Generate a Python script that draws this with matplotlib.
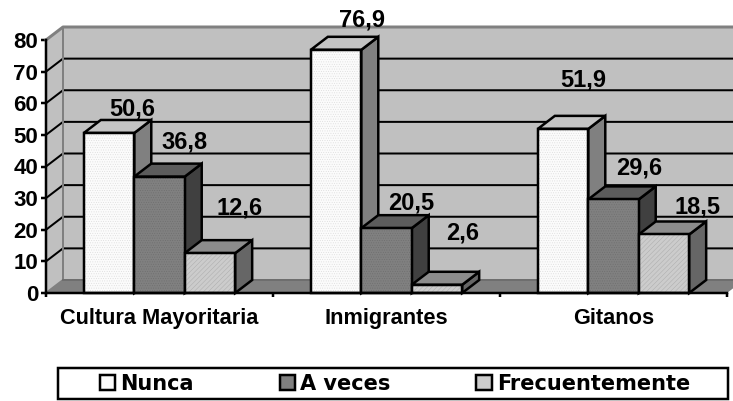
import numpy as np
import matplotlib
matplotlib.use('Agg')
import matplotlib.pyplot as plt
from matplotlib.patches import Polygon, Rectangle

categories = ['Cultura Mayoritaria', 'Inmigrantes', 'Gitanos']
series_names = ['Nunca', 'A veces', 'Frecuentemente']
nunca = [50.6, 76.9, 51.9]
a_veces = [36.8, 20.5, 29.6]
frecuentemente = [12.6, 2.6, 18.5]
y_ticks = [0, 10, 20, 30, 40, 50, 60, 70, 80]

# label offsets from the front top centre of each bar, in pixels
label_dx = [[23, 26, 20], [25, 25, 26], [30, 26, 34]]
label_dy = [[24, 30, 49], [35, 25, 31], [45, 52, 27]]

front = ['#fbfbfb', '#808080', '#cccccc']
grain = ['#d8d8d8', '#6c6c6c', '#a8a8a8']
hatches = ['.......', '.......', '///////']
top = ['#c4c4c4', '#5c5c5c', '#8c8c8c']
side = ['#808080', '#404040', '#666666']
font = 'Liberation Sans'
W, H = 733, 401
PX = 0.72  # points per pixel at dpi 100
EDGE = 2.5 * PX

plt.rcParams['hatch.linewidth'] = 0.3

fig = plt.figure(figsize=(W / 100, H / 100), dpi=100)
ax = fig.add_axes([46 / W, (H - 293) / H, 681 / W, 253 / H])
ax.set_xlim(-0.5, 2.5)
ax.set_ylim(0, 80)
ax.patch.set_visible(False)
for spine in ax.spines.values():
	spine.set_visible(False)

# depth of the box in data units
dx = 17 / (681 / 3)
dy = 13 / (253 / 80)
x0, x1 = -0.5, 2.5


def poly(points, color, edge='none', lw=0, z=1):
	ax.add_patch(Polygon(points, closed=True, facecolor=color, edgecolor=edge, linewidth=lw, zorder=z, clip_on=False, joinstyle='miter'))


# walls and floor
poly([(x0 + dx, dy), (x1 + dx, dy), (x1 + dx, 80 + dy), (x0 + dx, 80 + dy)], '#c0c0c0')
poly([(x0, 0), (x0 + dx, dy), (x0 + dx, 80 + dy), (x0, 80)], '#c0c0c0')
poly([(x0, 0), (x1, 0), (x1 + dx, dy), (x0 + dx, dy)], '#808080')
for v in y_ticks[1:-1]:
	ax.plot([x0, x0 + dx, x1 + dx], [v, v + dy, v + dy], color='black', lw=2 * PX, zorder=2, clip_on=False)
ax.plot([x0, x0 + dx, x1 + dx], [80, 80 + dy, 80 + dy], color='#808080', lw=3 * PX, zorder=2, clip_on=False)
ax.plot([x0, x0 + dx, x0 + dx], [0, dy, 80 + dy], color='#808080', lw=2 * PX, zorder=2, clip_on=False)
ax.plot([x0 + dx, x1 + dx], [dy, dy], color='#6e6e6e', lw=2 * PX, zorder=2, clip_on=False)

# bars, left to right so each one overlaps the side of the previous
width = 1 / 4.5
z = 3
for c in range(len(categories)):
	for s, values in enumerate([nunca, a_veces, frecuentemente]):
		v = values[c]
		left = c - 1.5 * width + s * width
		right = left + width
		poly([(right, 0), (right + dx, dy), (right + dx, v + dy), (right, v)], side[s], 'black', EDGE, z)
		poly([(left, v), (right, v), (right + dx, v + dy), (left + dx, v + dy)], top[s], 'black', EDGE, z)
		ax.bar(left + width / 2, v, width, facecolor=front[s], edgecolor=grain[s], hatch=hatches[s], linewidth=0, zorder=z, clip_on=False)
		ax.bar(left + width / 2, v, width, fill=False, edgecolor='black', linewidth=EDGE, zorder=z, clip_on=False)
		ax.annotate(f'{v}'.replace('.', ','), (left + width / 2, v),
			xytext=(label_dx[s][c] * PX, label_dy[s][c] * PX), textcoords='offset points',
			ha='center', va='center', family=font, fontweight='bold', fontsize=17, zorder=20, annotation_clip=False)
		z += 1

# axes lines and ticks
ax.plot([x0, x0], [0, 80], color='black', lw=EDGE, zorder=30, clip_on=False)
ax.plot([x0, x1], [0, 0], color='black', lw=EDGE, zorder=30, clip_on=False)
ax.set_yticks(y_ticks)
ax.set_xticks([-0.5, 0.5, 1.5, 2.5])
ax.set_xticklabels([])
ax.set_xticks([0, 1, 2], minor=True)
ax.set_xticklabels(categories, minor=True, family=font, fontweight='bold', fontsize=15.7)
ax.tick_params(axis='x', which='major', length=4 * PX, width=EDGE)
ax.tick_params(axis='x', which='minor', length=0, pad=15 * PX)
ax.tick_params(axis='y', length=5 * PX, width=EDGE, pad=3 * PX)
for label in ax.get_yticklabels():
	label.set_family(font)
	label.set_fontweight('bold')
	label.set_fontsize(16)

# legend box
fig.add_artist(Rectangle((58 / W, (H - 399) / H), 670 / W, 31 / H, transform=fig.transFigure, facecolor='white', edgecolor='black', linewidth=EDGE))
handles = [Rectangle((0, 0), 1, 1, facecolor=front[i], edgecolor='black', linewidth=EDGE) for i in range(3)]
legend = fig.legend(handles, series_names, ncols=3, loc='center', bbox_to_anchor=(395 / W, (H - 384) / H), frameon=False,
	prop={'family': 'DejaVu Sans', 'weight': 'bold', 'size': 15}, handlelength=0.75, handleheight=0.75, handletextpad=0.25, columnspacing=4.1)

fig.savefig('out.png', dpi=100)
